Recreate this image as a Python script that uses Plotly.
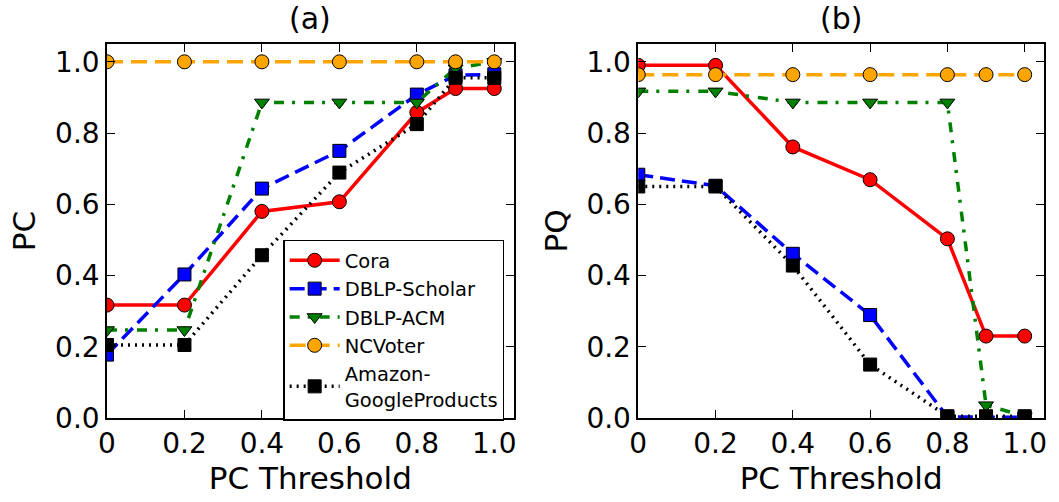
import plotly.graph_objects as go

thresholds = [0, 0.2, 0.4, 0.6, 0.8, 0.9, 1.0]
series_names = ["Cora", "DBLP-Scholar", "DBLP-ACM", "NCVoter", "Amazon-<br>GoogleProducts"]

# Panel (a): PC
pc_cora = [0.317, 0.317, 0.58, 0.607, 0.858, 0.925, 0.925]
pc_dblp_scholar = [0.178, 0.403, 0.644, 0.75, 0.908, 0.962, 0.965]
pc_dblp_acm = [0.247, 0.247, 0.886, 0.886, 0.886, 0.982, 1.0]
pc_ncvoter = [1.0, 1.0, 1.0, 1.0, 1.0, 1.0, 1.0]
pc_amazon = [0.205, 0.205, 0.457, 0.689, 0.825, 0.955, 0.955]

# Panel (b): PQ
pq_cora = [0.99, 0.99, 0.761, 0.669, 0.503, 0.23, 0.23]
pq_dblp_scholar = [0.683, 0.652, 0.461, 0.289, 0.003, 0.002, 0.002]
pq_dblp_acm = [0.917, 0.917, 0.886, 0.886, 0.886, 0.036, 0.005]
pq_ncvoter = [0.964, 0.964, 0.964, 0.964, 0.964, 0.964, 0.964]
pq_amazon = [0.65, 0.65, 0.428, 0.15, 0.005, 0.005, 0.005]

x_tickvals = [0, 0.2, 0.4, 0.6, 0.8, 1.0]
x_ticktext = ["0", "0.2", "0.4", "0.6", "0.8", "1.0"]
y_tickvals = [0, 0.2, 0.4, 0.6, 0.8, 1.0]
y_ticktext = ["0.0", "0.2", "0.4", "0.6", "0.8", "1.0"]

FONT = "DejaVu Sans"
styles = [
    dict(color="red", dash="solid", symbol="circle", size=14),
    dict(color="blue", dash="15px,7px", symbol="square", size=13),
    dict(color="green", dash="10px,8px,3px,9px", symbol="triangle-down", size=13),
    dict(color="orange", dash="16px,8px", symbol="circle", size=14),
    dict(color="black", dash="2px,5px", symbol="square", size=13),
]

fig = go.Figure()
panels = [
    ("x", "y", [pc_cora, pc_dblp_scholar, pc_dblp_acm, pc_ncvoter, pc_amazon], True),
    ("x2", "y2", [pq_cora, pq_dblp_scholar, pq_dblp_acm, pq_ncvoter, pq_amazon], False),
]
for xa, ya, data, show in panels:
    for name, vals, st in zip(series_names, data, styles):
        fig.add_trace(go.Scatter(
            x=thresholds, y=vals, name=name, mode="lines+markers",
            xaxis=xa, yaxis=ya, showlegend=show, legendgroup=name,
            line=dict(color=st["color"], dash=st["dash"], width=3.5),
            marker=dict(symbol=st["symbol"], size=st["size"], color=st["color"],
                        line=dict(color="black", width=1)),
        ))

axis_common = dict(
    range=[0, 1.05], showgrid=False, zeroline=False, showline=True,
    linecolor="black", linewidth=1.5, mirror="allticks", ticks="inside",
    ticklen=8, tickwidth=1.2, tickcolor="black",
    tickfont=dict(family=FONT, size=28, color="black"),
)
fig.update_layout(
    width=1059, height=502,
    margin=dict(l=107, r=12, t=44, b=81),
    paper_bgcolor="white", plot_bgcolor="white",
    font=dict(family=FONT, color="black"),
    xaxis=dict(domain=[0, 0.434], tickvals=x_tickvals, ticktext=x_ticktext,
               title=dict(text="PC Threshold", font=dict(size=31), standoff=8), anchor="y", **axis_common),
    yaxis=dict(domain=[0, 1], tickvals=y_tickvals, ticktext=y_ticktext,
               title=dict(text="PC", font=dict(size=31), standoff=10), anchor="x", **axis_common),
    xaxis2=dict(domain=[0.567, 1], tickvals=x_tickvals, ticktext=x_ticktext,
                title=dict(text="PC Threshold", font=dict(size=31), standoff=8), anchor="y2", **axis_common),
    yaxis2=dict(domain=[0, 1], tickvals=y_tickvals, ticktext=y_ticktext,
                title=dict(text="PQ", font=dict(size=31), standoff=10), anchor="x2", **axis_common),
    legend=dict(x=0.188, y=0.477, xanchor="left", yanchor="top",
                bgcolor="white", bordercolor="black", borderwidth=1.5,
                font=dict(family=FONT, size=19.5, color="black"),
                itemwidth=50, tracegroupgap=0),
    annotations=[
        dict(text="(a)", x=0.217, y=1.0, xref="paper", yref="paper", xanchor="center",
             yanchor="bottom", yshift=6, showarrow=False, font=dict(family=FONT, size=30)),
        dict(text="(b)", x=0.783, y=1.0, xref="paper", yref="paper", xanchor="center",
             yanchor="bottom", yshift=6, showarrow=False, font=dict(family=FONT, size=30)),
    ],
)

fig.write_html("out.html")
